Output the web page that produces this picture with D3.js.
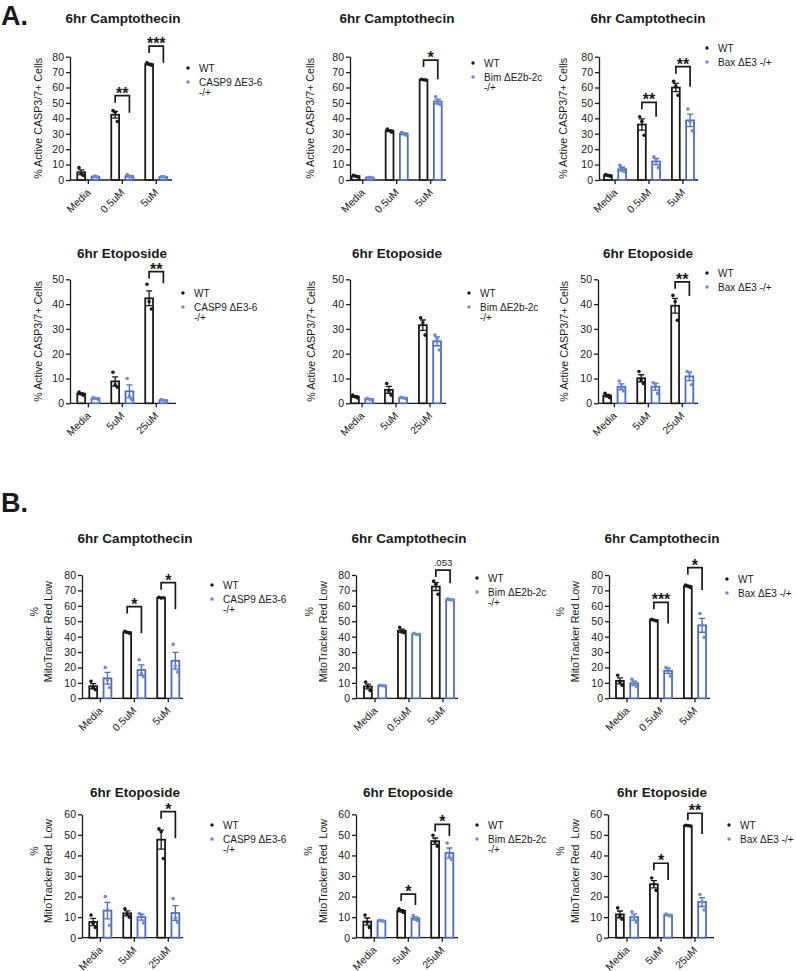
<!DOCTYPE html>
<html>
<head>
<meta charset="utf-8">
<script src="https://cdn.jsdelivr.net/npm/d3@7"></script>
<style>
  body { margin: 0; background: #fff; }
  svg { font-family: "Liberation Sans", Arial, sans-serif; }
  text { white-space: pre; }
</style>
</head>
<body>
<div id="fig"></div>
<script>
// categories
var campDoses = ["Media", "0.5uM", "5uM"];
var etoDoses = ["Media", "5uM", "25uM"];
var genotypes = ["WT", "KO"];
var koLegend = [["CASP9 \u0394E3-6", "-/+"], ["Bim \u0394E2b-2c", "-/+"], ["Bax \u0394E3 -/+"]];
var casp37Label = ["% Active CASP3/7+ Cells"];
var mitoLabel = ["%", "MitoTracker Red Low"];
var mitoLabel2 = ["%", "MitoTracker Red  Low"];

// replicate values (3 per bar), one triplet per dose
// A: % active CASP3/7+, 6hr camptothecin
var casp9CampWT = [[8, 4, 3], [45, 44, 38], [76, 75, 74.5]];
var casp9CampKO = [[2, 2.5, 1.8], [3.5, 2, 2], [2, 2.2, 1.8]];
var bimCampWT = [[3, 2.5, 2], [33, 32, 31], [65.3, 65, 64.8]];
var bimCampKO = [[1.5, 1.8, 1.2], [31, 30, 29], [54, 50, 49]];
var baxCampWT = [[3.5, 3, 2.5], [41, 38, 29], [64, 61, 55]];
var baxCampKO = [[9.5, 6, 5.5], [15, 13, 8], [46, 38, 32]];
// A: % active CASP3/7+, 6hr etoposide
var casp9EtoWT = [[4.5, 3.8, 3.2], [12.5, 7.5, 6.5], [48, 41, 38]];
var casp9EtoKO = [[2.3, 2, 1.7], [10, 3, 1.5], [1.5, 1.2, 1]];
var bimEtoWT = [[3.3, 2.7, 2.2], [8, 5, 3.3], [34.5, 32.5, 27.5]];
var bimEtoKO = [[2, 1.7, 1.4], [2.4, 2.2, 2], [27.5, 26, 21.5]];
var baxEtoWT = [[4, 3, 2.3], [12.8, 9.5, 8], [43.5, 41, 33.5]];
var baxEtoKO = [[9, 6, 5], [8.3, 7.8, 4], [12.8, 12.3, 7.5]];
// B: % MitoTracker Red low, 6hr camptothecin
var casp9CampMitoWT = [[11, 7, 5.5], [43.5, 42.8, 42.2], [65.5, 65, 65.2]];
var casp9CampMitoKO = [[20, 12, 7], [25, 16, 14], [35, 21, 17]];
var bimCampMitoWT = [[10.5, 7.5, 5], [46, 43, 42.5], [76, 74, 67.5]];
var bimCampMitoKO = [[8.5, 8.2, 8], [42.2, 41.5, 41.4], [64.5, 64, 63.8]];
var baxCampMitoWT = [[15, 10.5, 8.5], [51.2, 50.8, 50.2], [73.5, 72.8, 72]];
var baxCampMitoKO = [[12.3, 9.3, 7.6], [20, 19, 14.5], [55, 47.5, 39.5]];
// B: % MitoTracker Red low, 6hr etoposide
var casp9EtoMitoWT = [[11, 7, 5], [14, 11.5, 10], [53, 51.5, 38.5]];
var casp9EtoMitoKO = [[20, 13.5, 6], [11.8, 11, 7.2], [19, 9.5, 7.5]];
var bimEtoMitoWT = [[11, 7.5, 5], [14, 13, 12.3], [49.8, 46.5, 44.5]];
var bimEtoMitoKO = [[8.5, 8.2, 8], [10.8, 9, 8.4], [46, 39.5, 38]];
var baxEtoMitoWT = [[14.5, 10.5, 9], [29, 26, 23], [54.7, 54.5, 54.3]];
var baxEtoMitoKO = [[12.6, 10, 7.5], [11.5, 11, 10.6], [21, 17.5, 13.5]];

// significance brackets: top of bracket and end of right leg, in data units
var casp9CampSig = [{dose: "0.5uM", label: "**", top: 54.7, end: 43.7}, {dose: "5uM", label: "***", top: 86.9, end: 76.1}];
var bimCampSig = [{dose: "5uM", label: "*", top: 77.8, end: 65.3}];
var baxCampSig = [{dose: "0.5uM", label: "**", top: 50.4, end: 41}, {dose: "5uM", label: "**", top: 73.5, end: 60.5}];
var casp9EtoSig = [{dose: "25uM", label: "**", top: 53.1, end: 48.4}];
var bimEtoSig = [];
var baxEtoSig = [{dose: "25uM", label: "**", top: 49, end: 43.3}];
var casp9CampMitoSig = [{dose: "0.5uM", label: "*", top: 59.5, end: 42.2}, {dose: "5uM", label: "*", top: 75, end: 57.7}];
var bimCampMitoSig = [{dose: "5uM", label: ".053", top: 83.2, end: 74.6}];
var baxCampMitoSig = [{dose: "0.5uM", label: "***", top: 62.3, end: 48.6}, {dose: "5uM", label: "*", top: 84.8, end: 70.3}];
var casp9EtoMitoSig = [{dose: "25uM", label: "*", top: 61.3, end: 48.3}];
var bimEtoMitoSig = [{dose: "5uM", label: "*", top: 21.2, end: 15.9}, {dose: "25uM", label: "*", top: 55.1, end: 49.5}];
var baxEtoMitoSig = [{dose: "5uM", label: "*", top: 36.2, end: 28}, {dose: "25uM", label: "**", top: 60.5, end: 50.4}];

// panel layout
var panels = [
  {wt: casp9CampWT, ko: casp9CampKO, sig: casp9CampSig, doses: campDoses, leg: 0, ymax: 80, title: "6hr Camptothecin", ylab: casp37Label,
   x0: 70, x1: 172, bx: 77.3, yTop: 56.7, yBase: 180, tx: 123, ty: 18, lx: 188, ly: 68, ylx: [41.5]},
  {wt: bimCampWT, ko: bimCampKO, sig: bimCampSig, doses: campDoses, leg: 1, ymax: 80, title: "6hr Camptothecin", ylab: casp37Label,
   x0: 350, x1: 446, bx: 351.7, yTop: 56.7, yBase: 180, tx: 397, ty: 18, lx: 473, ly: 63, ylx: [314]},
  {wt: baxCampWT, ko: baxCampKO, sig: baxCampSig, doses: campDoses, leg: 2, ymax: 80, title: "6hr Camptothecin", ylab: casp37Label,
   x0: 599, x1: 698, bx: 604, yTop: 56.7, yBase: 180, tx: 648, ty: 18, lx: 707, ly: 48, ylx: [567]},
  {wt: casp9EtoWT, ko: casp9EtoKO, sig: casp9EtoSig, doses: etoDoses, leg: 0, ymax: 50, title: "6hr Etoposide", ylab: casp37Label,
   x0: 70, x1: 176, bx: 77.3, yTop: 279.3, yBase: 403.3, tx: 122, ty: 253, lx: 183, ly: 293, ylx: [41.5]},
  {wt: bimEtoWT, ko: bimEtoKO, sig: bimEtoSig, doses: etoDoses, leg: 1, ymax: 50, title: "6hr Etoposide", ylab: casp37Label,
   x0: 350, x1: 446, bx: 351, yTop: 279.3, yBase: 403.3, tx: 397, ty: 253, lx: 469, ly: 293, ylx: [315]},
  {wt: baxEtoWT, ko: baxEtoKO, sig: baxEtoSig, doses: etoDoses, leg: 2, ymax: 50, title: "6hr Etoposide", ylab: casp37Label,
   x0: 598, x1: 698, bx: 603.3, yTop: 279.3, yBase: 403.3, tx: 648, ty: 253, lx: 707, ly: 273, ylx: [568]},
  {wt: casp9CampMitoWT, ko: casp9CampMitoKO, sig: casp9CampMitoSig, doses: campDoses, leg: 0, ymax: 80, title: "6hr Camptothecin", ylab: mitoLabel,
   x0: 82, x1: 183, bx: 89.3, yTop: 575, yBase: 698.3, tx: 135, ty: 538, lx: 212, ly: 585, ylx: [37.7, 51.7]},
  {wt: bimCampMitoWT, ko: bimCampMitoKO, sig: bimCampMitoSig, doses: campDoses, leg: 1, ymax: 80, title: "6hr Camptothecin", ylab: mitoLabel,
   x0: 356, x1: 458, bx: 364, yTop: 575, yBase: 698.3, tx: 409, ty: 538, lx: 477, ly: 578, ylx: [312.7, 327.3]},
  {wt: baxCampMitoWT, ko: baxCampMitoKO, sig: baxCampMitoSig, doses: campDoses, leg: 2, ymax: 80, title: "6hr Camptothecin", ylab: mitoLabel,
   x0: 609, x1: 710, bx: 616, yTop: 575, yBase: 698.3, tx: 662, ty: 538, lx: 727, ly: 579, ylx: [564.3, 579.3]},
  {wt: casp9EtoMitoWT, ko: casp9EtoMitoKO, sig: casp9EtoMitoSig, doses: etoDoses, leg: 0, ymax: 60, title: "6hr Etoposide", ylab: mitoLabel2,
   x0: 82, x1: 183, bx: 89.3, yTop: 814.3, yBase: 937.7, tx: 135, ty: 792, lx: 212, ly: 825, ylx: [37.7, 51.7]},
  {wt: bimEtoMitoWT, ko: bimEtoMitoKO, sig: bimEtoMitoSig, doses: etoDoses, leg: 1, ymax: 60, title: "6hr Etoposide", ylab: mitoLabel2,
   x0: 356, x1: 458, bx: 363.3, yTop: 814.3, yBase: 937.7, tx: 408, ty: 792, lx: 477, ly: 825, ylx: [311.7, 327.3]},
  {wt: baxEtoMitoWT, ko: baxEtoMitoKO, sig: baxEtoMitoSig, doses: etoDoses, leg: 2, ymax: 60, title: "6hr Etoposide", ylab: mitoLabel2,
   x0: 608, x1: 714, bx: 616, yTop: 814.3, yBase: 937.7, tx: 662, ty: 792, lx: 729, ly: 825, ylx: [564.3, 579.3]}
];

var ink = "#1a1a1a",
    blue = "#4e6cc0",
    blueDot = "#6d8ad6";
var colors = {WT: ink, KO: blue};
var dotColors = {WT: ink, KO: blueDot};
var jitter = [-2.2, 0, 2.2];

var svg = d3.select("#fig").append("svg")
    .attr("width", 796)
    .attr("height", 971);

svg.append("text").attr("x", 1).attr("y", 25)
    .attr("font-size", 27).attr("font-weight", "bold").attr("fill", ink).text("A.");
svg.append("text").attr("x", 1).attr("y", 512)
    .attr("font-size", 27).attr("font-weight", "bold").attr("fill", ink).text("B.");

panels.forEach(function(p) {
  var g = svg.append("g");

  var y = d3.scaleLinear().domain([0, p.ymax]).range([p.yBase, p.yTop]);
  var x = d3.scaleBand().domain(p.doses).range([p.bx, p.bx + 90]).paddingInner(0.35);
  var xg = d3.scaleBand().domain(genotypes).range([0, x.bandwidth()]).paddingInner(0.45);

  // title
  g.append("text")
      .attr("x", p.tx).attr("y", p.ty + 4.8)
      .attr("text-anchor", "middle")
      .attr("font-size", 13.5).attr("font-weight", "bold").attr("fill", ink)
      .text(p.title);

  // y axis
  var ya = g.append("g")
      .attr("transform", "translate(" + p.x0 + ",0)")
      .call(d3.axisLeft(y).tickValues(d3.range(0, p.ymax + 1, 10)).tickSize(4).tickSizeOuter(0).tickPadding(2));
  ya.selectAll("text").attr("font-size", 10.5).attr("fill", ink).attr("font-family", null);

  // x axis
  var xa = g.append("g")
      .attr("transform", "translate(0," + p.yBase + ")")
      .call(d3.axisBottom(x).tickSize(4).tickSizeOuter(0));
  xa.select(".domain").remove();
  xa.append("line").attr("x1", p.x0).attr("x2", p.x1).attr("stroke", ink);
  xa.selectAll(".tick text")
      .attr("x", 0).attr("y", 0).attr("dy", 0)
      .attr("transform", "translate(3,13) rotate(-45)")
      .style("text-anchor", "end")
      .attr("font-size", 10.5).attr("fill", ink).attr("font-family", null);

  g.selectAll(".domain, .tick line, line").attr("stroke", ink).attr("stroke-width", 1.3);

  // y label
  var midY = (p.yTop + p.yBase) / 2;
  p.ylab.forEach(function(t, i) {
    var cy = p.ylab.length > 1 ? (i === 0 ? midY - 25 : midY - 5) : midY;
    g.append("text")
        .attr("transform", "translate(" + p.ylx[i] + "," + cy + ") rotate(-90)")
        .attr("text-anchor", "middle")
        .attr("font-size", 10.7).attr("fill", ink)
        .text(t);
  });

  // bars with mean, SEM and replicate points
  var rows = [];
  p.doses.forEach(function(d, i) {
    genotypes.forEach(function(gt) {
      var vals = gt === "WT" ? p.wt[i] : p.ko[i];
      var m = d3.mean(vals);
      var sem = d3.deviation(vals) / Math.sqrt(vals.length);
      rows.push({dose: d, gt: gt, vals: vals, mean: m, sem: sem,
                 cx: x(d) + xg(gt) + xg.bandwidth() / 2});
    });
  });

  g.selectAll(".bar").data(rows).enter().append("rect")
      .attr("class", "bar")
      .attr("x", function(d) { return x(d.dose) + xg(d.gt); })
      .attr("width", xg.bandwidth())
      .attr("y", function(d) { return y(d.mean); })
      .attr("height", function(d) { return p.yBase - y(d.mean); })
      .attr("fill", "#fff")
      .attr("stroke", function(d) { return colors[d.gt]; })
      .attr("stroke-width", 1.8);

  g.selectAll(".err").data(rows).enter().append("path")
      .attr("class", "err")
      .attr("d", function(d) {
        var lo = y(Math.max(0, d.mean - d.sem)), hi = y(d.mean + d.sem);
        return "M" + d.cx + "," + lo + "V" + hi +
               "M" + (d.cx - 3) + "," + hi + "H" + (d.cx + 3) +
               "M" + (d.cx - 3) + "," + lo + "H" + (d.cx + 3);
      })
      .attr("fill", "none")
      .attr("stroke", function(d) { return colors[d.gt]; })
      .attr("stroke-width", 1.3);

  rows.forEach(function(r) {
    g.selectAll(null).data(r.vals).enter().append("circle")
        .attr("cx", function(v, i) { return r.cx + jitter[i]; })
        .attr("cy", function(v) { return y(v); })
        .attr("r", 1.8)
        .attr("fill", dotColors[r.gt]);
  });

  // significance brackets
  p.sig.forEach(function(s) {
    var xl = x(s.dose) + xg("WT") + xg.bandwidth() / 2,
        xr = x(s.dose) + xg("KO") + xg.bandwidth() / 2,
        yt = y(s.top);
    g.append("path")
        .attr("d", "M" + xl + "," + (yt + 7) + "V" + yt + "H" + xr + "V" + y(s.end))
        .attr("fill", "none").attr("stroke", ink).attr("stroke-width", 1.7);
    var isStar = s.label.indexOf("*") >= 0;
    g.append("text")
        .attr("x", (xl + xr) / 2)
        .attr("y", isStar ? yt + 3 : yt - 4)
        .attr("text-anchor", "middle")
        .attr("font-size", isStar ? 16 : 9.5)
        .attr("font-weight", isStar ? "bold" : "normal")
        .attr("fill", ink)
        .text(s.label);
  });

  // legend
  var legRows = [{gt: "WT", lines: ["WT"]}, {gt: "KO", lines: koLegend[p.leg]}];
  legRows.forEach(function(l, i) {
    var cy = p.ly + i * 14;
    g.append("circle").attr("cx", p.lx).attr("cy", cy).attr("r", 1.7).attr("fill", dotColors[l.gt]);
    l.lines.forEach(function(t, j) {
      g.append("text")
          .attr("x", p.lx + 11).attr("y", cy + 3.6 + j * 10)
          .attr("font-size", 10).attr("fill", ink)
          .text(t);
    });
  });
});
</script>
</body>
</html>
